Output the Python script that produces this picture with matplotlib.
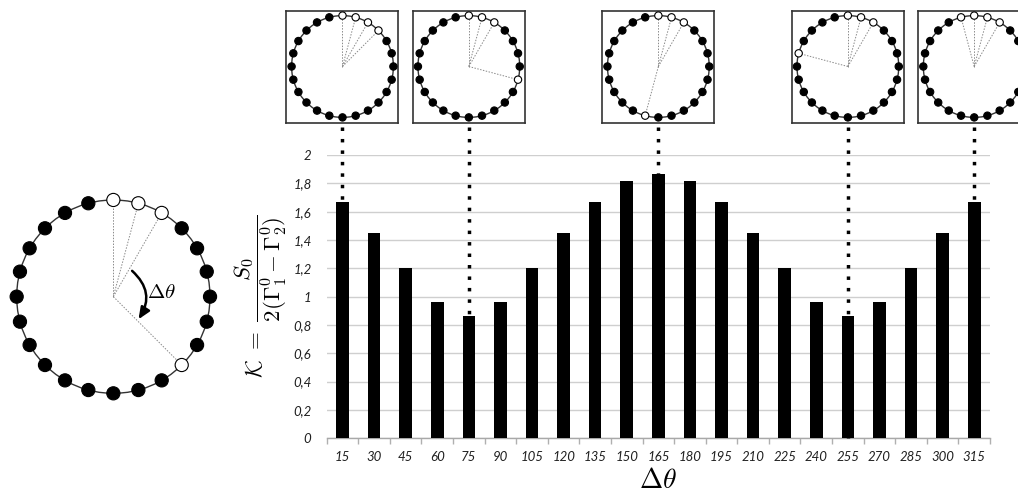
import numpy as np
import matplotlib
matplotlib.use("Agg")
import matplotlib.pyplot as plt
from matplotlib.patches import Circle, FancyArrowPatch
from matplotlib.lines import Line2D

plt.rcParams["mathtext.fontset"] = "cm"

# ---- data ----
delta_theta = [15, 30, 45, 60, 75, 90, 105, 120, 135, 150, 165, 180,
               195, 210, 225, 240, 255, 270, 285, 300, 315]
kappa = [1.67, 1.45, 1.20, 0.965, 0.865, 0.965, 1.20, 1.45, 1.67, 1.815, 1.865,
         1.815, 1.67, 1.45, 1.20, 0.965, 0.865, 0.965, 1.20, 1.45, 1.67]
y_ticks = [0, 0.2, 0.4, 0.6, 0.8, 1.0, 1.2, 1.4, 1.6, 1.8, 2.0]
y_tick_labels = ["0", "0,2", "0,4", "0,6", "0,8", "1", "1,2", "1,4", "1,6", "1,8", "2"]
inset_delta = [15, 75, 165, 255, 315]
connector_to_axis = [255]
n_nodes = 24
fixed_open = [0, 15, 30]
main_example_delta = 105

fig = plt.figure(figsize=(10.18, 4.93), dpi=100)
W, H = 1018, 493

# ---- bar chart ----
ax = fig.add_axes([326.7 / W, 1 - 438.3 / H, (990 - 326.7) / W, (438.3 - 155) / H])
x = np.arange(len(delta_theta))
ax.bar(x, kappa, width=0.4, color="black", zorder=3)
ax.set_xlim(-0.5, len(x) - 0.5)
ax.set_ylim(0, 2)
ax.set_yticks(y_ticks)
ax.set_yticklabels(y_tick_labels)
ax.set_xticks(x)
ax.set_xticklabels([str(v) for v in delta_theta])
ax.set_xticks(np.arange(-0.5, len(x), 1.0), minor=True)
ax.grid(axis="y", color="#cfcfcf", lw=1.0, zorder=0)
ax.set_axisbelow(True)
for s in ["left", "top", "right"]:
    ax.spines[s].set_visible(False)
ax.spines["bottom"].set_color("#a8a8a8")
ax.spines["bottom"].set_linewidth(1.0)
ax.tick_params(axis="y", length=0, pad=11)
ax.tick_params(axis="x", which="major", length=0, pad=9)
ax.tick_params(axis="x", which="minor", length=4, color="#b0b0b0", width=1)
for lab in ax.get_xticklabels() + ax.get_yticklabels():
    lab.set_fontstyle("italic")
    lab.set_fontfamily("Lato")
    lab.set_fontsize(9.5)
    lab.set_color("#202020")

ax.set_xlabel(r"$\Delta\theta$", fontsize=20, labelpad=2)
ax.set_ylabel(r"$\mathcal{K}\ =\ \dfrac{S_0}{2(\Gamma_1^0 - \Gamma_2^0)}$",
              fontsize=16.5, va="center")
ax.yaxis.set_label_coords((261 - 326.7) / (990 - 326.7), 0.5)


def draw_ring(a, open_angles, node_r):
    a.set_xlim(-1.1, 1.1)
    a.set_ylim(-1.1, 1.1)
    a.set_aspect("equal")
    a.add_patch(Circle((0, 0), 1.0, fill=False, lw=1.0, ec="#333333", zorder=1))
    for t in np.arange(n_nodes) * (360 / n_nodes):
        r = np.deg2rad(t)
        is_open = any(abs(((t - o) + 180) % 360 - 180) < 1e-6 for o in open_angles)
        a.add_patch(Circle((np.sin(r), np.cos(r)), node_r,
                           fc="white" if is_open else "black",
                           ec="black", lw=0.8, zorder=3))
    for o in open_angles:
        r = np.deg2rad(o)
        a.plot([0, np.sin(r) * (1 - node_r)], [0, np.cos(r) * (1 - node_r)],
               ls=(0, (1.5, 1.5)), lw=0.7, color="#8a8a8a", zorder=2)


# ---- main ring diagram ----
rax = fig.add_axes([7 / W, 1 - 403 / H, 212.7 / W, 212.7 / H])
draw_ring(rax, fixed_open + [fixed_open[-1] + main_example_delta], 0.068)
rax.axis("off")
a0 = np.deg2rad(fixed_open[-1] + 6)
a1 = np.deg2rad(fixed_open[-1] + main_example_delta - 3)
arrow = FancyArrowPatch((0.33 * np.sin(a0), 0.33 * np.cos(a0)),
                        (0.35 * np.sin(a1), 0.35 * np.cos(a1)),
                        connectionstyle="arc3,rad=-0.42",
                        arrowstyle="-|>,head_length=0.7,head_width=0.3",
                        mutation_scale=10, lw=1.8, color="black",
                        shrinkA=0, shrinkB=0, zorder=4)
rax.add_patch(arrow)
rax.text(0.35, 0.05, r"$\Delta\theta$", fontsize=15, ha="left", va="center")

# ---- insets ----
fig_inv = fig.transFigure.inverted()
inset_w, inset_h = 112 / W, 112 / H
inset_bottom = 1 - 122.5 / H
for d in inset_delta:
    idx = delta_theta.index(d)
    fx = fig_inv.transform(ax.transData.transform((idx, 0)))[0]
    iax = fig.add_axes([fx - inset_w / 2, inset_bottom, inset_w, inset_h])
    draw_ring(iax, [(o) % 360 for o in fixed_open] + [(fixed_open[-1] + d) % 360], 0.072)
    iax.set_xticks([])
    iax.set_yticks([])
    for s in iax.spines.values():
        s.set_color("#333333")
        s.set_linewidth(1.2)
    end_y = 0 if d in connector_to_axis else kappa[idx]
    y_end = fig_inv.transform(ax.transData.transform((idx, end_y)))[1]
    y_start = inset_bottom - 4 / H
    fig.add_artist(Line2D([fx, fx], [y_start, y_end], transform=fig.transFigure,
                          ls=(0, (1, 2.3)), lw=2.5, color="black",
                          dash_capstyle="butt", zorder=5))

fig.savefig("out.png", dpi=100, facecolor="white")
